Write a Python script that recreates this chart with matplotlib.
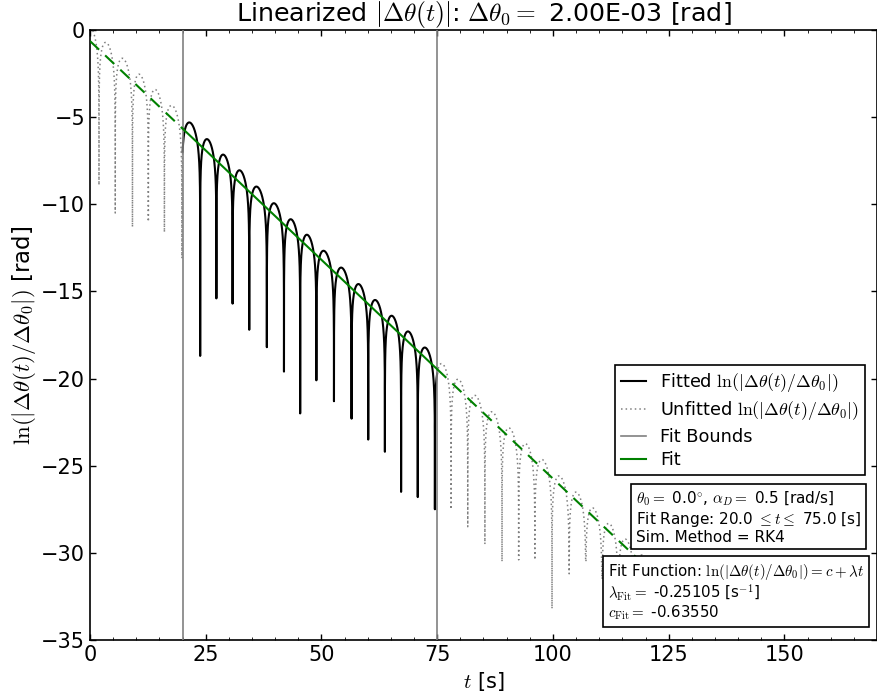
import numpy as np
import matplotlib
matplotlib.use('Agg')
import matplotlib.pyplot as plt
from matplotlib.ticker import MultipleLocator

# Zero crossings of the linearised pendulum difference (cusp times, s)
# and the lowest sampled value of ln|dtheta/dtheta0| at each one
cusp_t = [1.94, 5.45, 9.17, 12.6, 16.07, 19.85,
          23.8, 27.3, 30.8, 34.4, 38.2, 41.9, 45.4, 48.9, 52.7, 56.5,
          60.1, 63.7, 67.2, 70.8, 74.5,
          78.0, 81.6, 85.3, 89.0, 92.6, 96.1, 99.8, 103.5, 107.1, 110.6,
          114.1, 117.7, 121.3, 124.9]
cusp_depth = [-8.9, -10.5, -11.3, -11.0, -11.6, -13.1,
              -18.7, -15.4, -15.7, -17.2, -18.2, -19.6, -22.0, -20.1, -21.3, -22.3,
              -23.5, -24.2, -26.5, -26.8, -27.5,
              -27.5, -28.5, -29.5, -30.5, -30.4, -30.4, -33.2, -31.2, -30.5, -31.5,
              -32.0, -33.0, -33.5, -34.0]

# amplitude envelope of the oscillation (ln units)
env0 = 0.19
env_slope = -0.254

t_end = 125.0
fit_lo, fit_hi = 20.0, 75.0
lam_fit = -0.25105
c_fit = -0.63550
dtheta0 = 2.00e-03
theta0 = 0.0
alpha_D = 0.5

# ---- build the curve half-period by half-period ----
first_gap = cusp_t[1] - cusp_t[0]
ts, ys = [], []
s_grid = np.concatenate([np.linspace(0, 0.02, 60), np.linspace(0.02, 0.98, 300)[1:-1],
                         np.linspace(0.98, 1, 60)])
bounds = [cusp_t[0] - first_gap] + cusp_t + [cusp_t[-1] + (cusp_t[-1] - cusp_t[-2])]
depths = [cusp_depth[0]] + cusp_depth + [cusp_depth[-1]]
for k in range(len(bounds) - 1):
    ta, tb = bounds[k], bounds[k + 1]
    tt = ta + s_grid * (tb - ta)
    with np.errstate(divide='ignore'):
        yy = env0 + env_slope * tt + np.log(np.abs(np.sin(np.pi * s_grid)))
    floor = np.where(s_grid < 0.5, depths[k], depths[k + 1])
    yy = np.maximum(yy, floor)
    keep = (tt >= 0) & (tt <= t_end)
    ts.append(tt[keep])
    ys.append(yy[keep])
t = np.concatenate(ts)
y = np.concatenate(ys)

in_fit = (t >= fit_lo) & (t <= fit_hi)
y_fit = np.where(in_fit, y, np.nan)
y_pre = np.where(t <= fit_lo, y, np.nan)
y_post = np.where(t >= fit_hi, y, np.nan)

# ---- plot ----
plt.rcParams.update({
    'font.family': 'DejaVu Sans',
    'mathtext.fontset': 'cm',
    'xtick.direction': 'in', 'ytick.direction': 'in',
    'xtick.top': True, 'ytick.right': True,
    'xtick.major.size': 4.5, 'ytick.major.size': 4.5,
    'xtick.minor.size': 2.2, 'ytick.minor.size': 2.2,
    'axes.linewidth': 1.2,
    'lines.dashed_pattern': [6, 4],
    'lines.dotted_pattern': [1, 2],
})

fig = plt.figure(figsize=(8.78, 6.98), dpi=100)
ax = fig.add_axes([90 / 878, 58 / 698, 787 / 878, 610 / 698])

ax.plot(t, y_fit, color='black', lw=1.5, label=r'Fitted $\ln(|\Delta\theta(t)/\Delta\theta_0|)$', zorder=2)
ax.plot(t, y_pre, color='gray', lw=1.1, ls=':', label=r'Unfitted $\ln(|\Delta\theta(t)/\Delta\theta_0|)$', zorder=2)
ax.plot(t, y_post, color='gray', lw=1.1, ls=':', zorder=2)
ax.axvline(fit_lo, color='gray', lw=1.2, label='Fit Bounds', zorder=3)
ax.axvline(fit_hi, color='gray', lw=1.2, zorder=3)

t_line = np.array([0.0, fit_lo, fit_hi, t_end])
y_line = c_fit + lam_fit * t_line
ax.plot(t_line[1:3], y_line[1:3], color='green', lw=1.5, label='Fit', zorder=4)
ax.plot(t_line[0:2], y_line[0:2], color='green', lw=1.5, ls='--', zorder=4)
ax.plot(t_line[2:4], y_line[2:4], color='green', lw=1.5, ls='--', zorder=4)

ax.set_xlim(0, 170)
ax.set_ylim(-35, 0)
ax.xaxis.set_major_locator(MultipleLocator(25))
ax.xaxis.set_minor_locator(MultipleLocator(5))
ax.yaxis.set_major_locator(MultipleLocator(5))
ax.tick_params(labelsize=15, width=1.0)

ax.set_title(r'Linearized $|\Delta\theta(t)|$: $\Delta\theta_0 = $ %.2E [rad]' % dtheta0, fontsize=18.3)
ax.set_xlabel(r'$t$ [s]', fontsize=15)
ax.set_ylabel(r'$\ln(|\Delta\theta(t)/\Delta\theta_0|)$ [rad]', fontsize=16.5, labelpad=2)

leg = ax.legend(loc='upper right', bbox_to_anchor=(0.985, 0.451), borderaxespad=0,
                fontsize=12.8, handlelength=1.4, labelspacing=0.3, borderpad=0.35,
                fancybox=False, framealpha=1)
leg.get_frame().set_edgecolor('black')
leg.get_frame().set_linewidth(1.2)
leg.set_zorder(6)

box = dict(boxstyle='square,pad=0.3', facecolor='white', edgecolor='black', linewidth=1.2)
info = (r'$\theta_0 = $ %.1f$^{\circ}$, $\alpha_D = $ %.1f [rad/s]' % (theta0, alpha_D) + '\n'
        + r'Fit Range: %.1f $\leq t \leq$ %.1f [s]' % (fit_lo, fit_hi) + '\n'
        + 'Sim. Method = RK4')
ax.text(0.9797, 0.2459, info, transform=ax.transAxes, ha='right', va='top',
        multialignment='left', fontsize=11, linespacing=1.1, bbox=box, zorder=7)
fit_txt = (r'Fit Function: $\ln(|\Delta\theta(t)/\Delta\theta_0|) = c + \lambda t$' + '\n'
           + r'$\lambda_{\mathrm{Fit}} = $ %.5f [s$^{-1}$]' % lam_fit + '\n'
           + r'$c_{\mathrm{Fit}} = $ %.5f' % c_fit)
ax.text(0.9835, 0.1279, fit_txt, transform=ax.transAxes, ha='right', va='top',
        multialignment='left', fontsize=10.8, linespacing=1.05, bbox=box, zorder=7)

plt.savefig('out.png', dpi=100)
